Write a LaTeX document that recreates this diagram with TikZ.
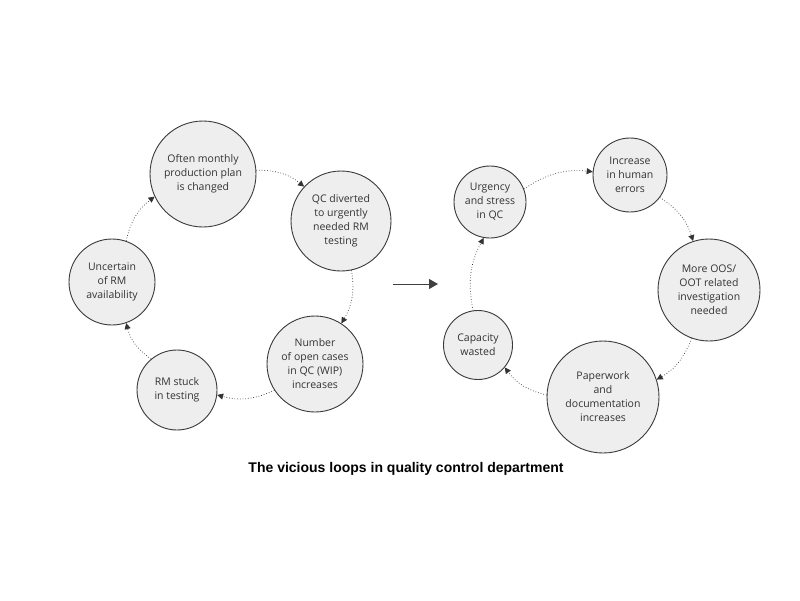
\documentclass[tikz,border=0pt]{standalone}
\usepackage{fontspec}
\setmainfont{Open Sans}
\newfontfamily\titlefont{Liberation Sans}
\usetikzlibrary{arrows.meta}
\definecolor{circfill}{HTML}{EEEEEE}
\definecolor{circline}{HTML}{3A3A3A}
\definecolor{txtgray}{HTML}{333333}
\tikzset{
  bubble/.style={circle, draw=circline, line width=0.9pt, fill=circfill, inner sep=0pt,
    align=center, text=txtgray, font=\fontsize{10.5}{14}\selectfont},
  conn/.style={draw=black!80, line width=0.7pt, dotted, -{Triangle[length=6pt,width=6pt]}},
  midarrow/.style={draw=black!75, line width=1pt, -{Triangle[length=9pt,width=10pt]}}
}
\begin{document}
\begin{tikzpicture}[x=1pt,y=-1pt]
\useasboundingbox (0,0) rectangle (800,600);
\fill[white] (0,0) rectangle (800,600);
% left loop
\node[bubble, minimum size=106pt] (often) at (203,174) {Often monthly\\production plan\\is changed};
\node[bubble, minimum size=100pt] (qc) at (341,221) {QC diverted\\to urgently\\needed RM\\testing};
\node[bubble, minimum size=96pt] (num) at (315,364) {Number\\of open cases\\in QC (WIP)\\increases};
\node[bubble, minimum size=80pt] (stuck) at (177,390) {RM stuck\\in testing};
\node[bubble, minimum size=86pt] (unc) at (112,282) {Uncertain\\of RM\\availability};
\draw[conn] (often.4) to[bend left=20] (qc.137);
\draw[conn] (qc.-78) to[bend left=20] (num.57);
\draw[conn] (num.-147) to[bend left=20] (stuck.-7);
\draw[conn] (stuck.130) to[bend left=20] (unc.-71);
\draw[conn] (unc.71) to[bend left=20] (often.-155);
% middle arrow
\coordinate (ma) at (393,284);
\coordinate (mb) at (438,284);
\draw[midarrow] (ma) -- (mb);
% right loop
\node[bubble, minimum size=72pt] (urg) at (490,202) {Urgency\\and stress\\in QC};
\node[bubble, minimum size=74pt] (inc) at (630,175) {Increase\\in human\\errors};
\node[bubble, minimum size=102pt] (oos) at (709,290) {More OOS/\\OOT related\\investigation\\needed};
\node[bubble, minimum size=112pt] (paper) at (603,397) {Paperwork\\and\\documentation\\increases};
\node[bubble, minimum size=69pt] (cap) at (478,345) {Capacity\\wasted};
\draw[conn] (urg.21) to[bend left=20] (inc.175);
\draw[conn] (inc.-37) to[bend left=20] (oos.108);
\draw[conn] (oos.-110) to[bend left=20] (paper.18);
\draw[conn] (paper.178) to[bend left=20] (cap.-40);
\draw[conn] (cap.98) to[bend left=20] (urg.-100);
% title
\node[font=\titlefont\bfseries\fontsize{14}{17}\selectfont, text=black] (title) at (406,469) {The vicious loops in quality control department};
\end{tikzpicture}
\end{document}
